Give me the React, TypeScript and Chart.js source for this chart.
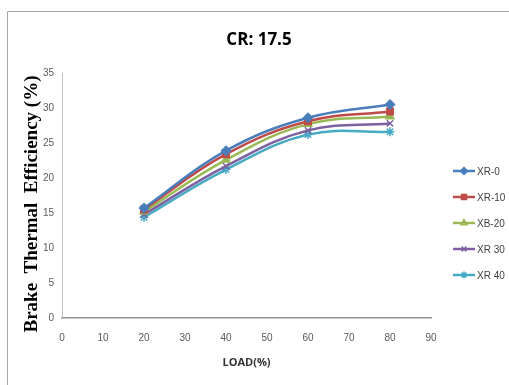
import React, { useEffect, useRef } from "react";
import { Chart, registerables } from "chart.js";
import { drawPoint } from "chart.js/helpers";

Chart.register(...registerables);

const title = "CR: 17.5";
const xTitle = "LOAD(%)";
const yTitle = "Brake  Thermal  Efficiency (%)";
const loads = [20, 40, 60, 80];
const seriesNames = ["XR-0", "XR-10", "XB-20", "XR 30", "XR 40"];
const xr0 = [15.7, 23.9, 28.6, 30.5];
const xr10 = [15.5, 23.4, 28.1, 29.5];
const xb20 = [15.2, 22.6, 27.7, 28.8];
const xr30 = [14.8, 21.7, 26.8, 27.8];
const xr40 = [14.4, 21.2, 26.2, 26.6];
const seriesValues = [xr0, xr10, xb20, xr30, xr40];
const colors = ["#4A7EBB", "#BE4B48", "#98B954", "#7D60A0", "#46AAC5"];
const pointStyles = ["rectRot", "rect", "triangle", "crossRot", "star"];

const framePlugin = {
  id: "frame",
  beforeDraw(chart: any) {
    const ctx = chart.ctx;
    ctx.save();
    ctx.strokeStyle = "#a6a6a6";
    ctx.lineWidth = 1;
    ctx.beginPath();
    ctx.moveTo(7.5, 400);
    ctx.lineTo(7.5, 11.5);
    ctx.lineTo(520, 11.5);
    ctx.stroke();
    ctx.fillStyle = "#000";
    ctx.font = "bold 17px 'Open Sans', sans-serif";
    ctx.textAlign = "center";
    ctx.textBaseline = "middle";
    ctx.fillText(title, 259, 40);
    // y axis title
    ctx.translate(32, 204);
    ctx.rotate(-Math.PI / 2);
    ctx.font = "bold 19px 'Liberation Serif', serif";
    ctx.fillText(yTitle, 0, 0);
    ctx.restore();
  },
};

const legendPlugin = {
  id: "customLegend",
  afterDraw(chart: any) {
    const ctx = chart.ctx;
    const x0 = chart.chartArea.right + 22;
    const y0 = 171;
    const gap = 26;
    ctx.save();
    chart.data.datasets.forEach((ds: any, i: number) => {
      const y = y0 + i * gap;
      ctx.strokeStyle = ds.borderColor;
      ctx.lineWidth = 2.5;
      ctx.beginPath();
      ctx.moveTo(x0, y);
      ctx.lineTo(x0 + 22, y);
      ctx.stroke();
      ctx.fillStyle = ds.pointBackgroundColor;
      ctx.strokeStyle = ds.pointBorderColor;
      ctx.lineWidth = 1.5;
      drawPoint(ctx, { pointStyle: ds.pointStyle, radius: 3.5, borderWidth: 1.5, rotation: 0 } as any, x0 + 11, y);
      ctx.fillStyle = "#404040";
      ctx.font = "10px 'Liberation Sans', sans-serif";
      ctx.textBaseline = "middle";
      ctx.textAlign = "left";
      ctx.fillText(ds.label, x0 + 24, y + 1);
    });
    ctx.restore();
  },
};

export default function App() {
  const ref = useRef<HTMLCanvasElement>(null);
  useEffect(() => {
    document.body.style.margin = "0";
    const datasets = seriesNames.map((name, i) => ({
      label: name,
      data: loads.map((x, j) => ({ x, y: seriesValues[i][j] })),
      borderColor: colors[i],
      backgroundColor: colors[i],
      pointBackgroundColor: colors[i],
      pointBorderColor: colors[i],
      pointStyle: pointStyles[i],
      pointRadius: 4.5,
      pointBorderWidth: 1.5,
      borderWidth: 2.5,
      tension: 0.4,
      fill: false,
    }));
    const chart = new Chart(ref.current!, {
      type: "line",
      data: { datasets },
      options: {
        animation: false,
        responsive: false,
        layout: { padding: { left: 22, right: 78, top: 73, bottom: 0 } },
        plugins: {
          legend: { display: false },
          tooltip: { enabled: false },
          title: { display: false },
        },
        scales: {
          x: {
            type: "linear",
            min: 0,
            max: 90,
            ticks: { stepSize: 10, color: "#595959", padding: 14, font: { family: "'Liberation Sans', sans-serif", size: 10 } },
            grid: { display: false, drawTicks: false },
            border: { display: true, color: "#909090", width: 1.5 },
            title: {
              display: true,
              text: xTitle,
              color: "#333",
              font: { family: "'Open Sans', sans-serif", size: 11, weight: "bold" },
              padding: { top: 0, bottom: 16 },
            },
            afterFit(scale: any) {
              scale.height = 67;
            },
          },
          y: {
            min: 0,
            max: 35,
            ticks: { stepSize: 5, color: "#595959", padding: 8, font: { family: "'Liberation Sans', sans-serif", size: 10 } },
            grid: { display: false, drawTicks: false },
            border: { display: true, color: "#c0c0c0", width: 1 },
            title: { display: false, text: yTitle },
            afterFit(scale: any) {
              scale.width = 40;
            },
          },
        },
      },
      plugins: [framePlugin, legendPlugin],
    });
    return () => chart.destroy();
  }, []);
  return (
    <div style={{ position: "absolute", left: 0, top: 0, width: 509, height: 385, background: "#fff" }}>
      <canvas ref={ref} width={509} height={385} style={{ display: "block" }} />
    </div>
  );
}
